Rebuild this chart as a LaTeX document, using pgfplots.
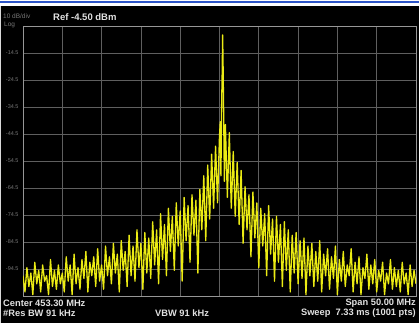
\documentclass[border=0pt]{standalone}
\usepackage{fontspec}
\setmainfont{Liberation Sans}
\usepackage{pgfplots}
\pgfplotsset{compat=1.18}
\definecolor{trace}{RGB}{235,235,20}
\definecolor{gridc}{RGB}{95,95,95}
\definecolor{framec}{RGB}{150,150,150}
\definecolor{txt}{RGB}{225,225,225}
\definecolor{lbl}{RGB}{120,120,120}
\definecolor{topblue}{RGB}{45,85,200}
\begin{document}
\begin{tikzpicture}[x=1pt,y=1pt]
\useasboundingbox (0,0) rectangle (419,323);
\fill[black] (0,0) rectangle (419,317);
\fill[white] (0,317) rectangle (419,323);
\fill[topblue] (0,320) rectangle (419,322.3);
\fill[white!85!black] (0,0) rectangle (1.3,317);
\begin{axis}[at={(23pt,27pt)}, anchor=south west, scale only axis,
  width=393pt, height=270pt,
  xmin=428.3, xmax=478.3, ymin=-104.5, ymax=-4.5,
  xtick={433.3,438.3,443.3,448.3,453.3,458.3,463.3,468.3,473.3},
  xticklabels={},
  ytick={-94.5,-84.5,-74.5,-64.5,-54.5,-44.5,-34.5,-24.5,-14.5},
  yticklabels={-94.5,-84.5,-74.5,-64.5,-54.5,-44.5,-34.5,-24.5,-14.5},
  yticklabel style={font=\fontsize{5.5}{6}\selectfont, text=lbl, xshift=-1pt},
  major tick length=0pt,
  grid=major, grid style={gridc, line width=0.8pt},
  axis line style={framec, line width=0.9pt},
  clip=true]
\addplot[trace, line width=1.3pt, line join=round] table {
x y
428.30 -97
428.55 -103
428.80 -94
429.05 -101
429.30 -96
429.55 -104
429.80 -92
430.05 -100
430.30 -95
430.55 -103
430.80 -93
431.05 -99
431.30 -97
431.55 -104
431.80 -91
432.05 -101
432.30 -95
432.55 -102
432.80 -93
433.05 -100
433.30 -96
433.55 -103
433.80 -90
434.05 -99
434.30 -93
434.55 -104
434.80 -89
435.05 -100
435.30 -94
435.55 -102
435.80 -91
436.05 -98
436.30 -88
436.55 -103
436.80 -92
437.05 -97
437.30 -90
437.55 -101
437.80 -87
438.05 -99
438.30 -93
438.55 -102
438.80 -86
439.05 -97
439.30 -90
439.55 -100
439.80 -85
440.05 -96
440.30 -89
440.55 -103
440.80 -84
441.05 -95
441.30 -88
441.55 -101
441.80 -82
442.05 -97
442.30 -86
442.55 -99
442.80 -80
443.05 -94
443.30 -85
443.55 -102
443.80 -81
444.05 -96
444.30 -83
444.55 -98
444.80 -77
445.05 -93
445.30 -80
445.55 -100
445.80 -74
446.05 -91
446.30 -78
446.55 -97
446.80 -72
447.05 -88
447.30 -75
447.55 -95
447.80 -70
448.05 -86
448.30 -73
448.55 -99
448.80 -68
449.05 -84
449.30 -71
449.55 -92
449.80 -67
450.05 -82
450.30 -69
450.55 -96
450.80 -65
451.05 -80
451.30 -60
451.55 -84
451.80 -56
452.05 -76
452.30 -52
452.55 -72
452.80 -49
453.05 -70
453.30 -45
453.40 -40
453.48 -60
453.57 -34
453.64 -22
453.70 -7.8
453.76 -20
453.83 -37
453.92 -62
454.05 -41
454.30 -68
454.55 -44
454.80 -72
455.05 -51
455.30 -75
455.55 -55
455.80 -78
456.05 -58
456.30 -85
456.55 -64
456.80 -80
457.05 -67
457.30 -90
457.55 -66
457.80 -83
458.05 -70
458.30 -94
458.55 -72
458.80 -86
459.05 -74
459.30 -97
459.55 -71
459.80 -89
460.05 -76
460.30 -99
460.55 -75
460.80 -92
461.05 -78
461.30 -101
461.55 -77
461.80 -95
462.05 -80
462.30 -103
462.55 -82
462.80 -96
463.05 -81
463.30 -100
463.55 -84
463.80 -98
464.05 -83
464.30 -104
464.55 -86
464.80 -97
465.05 -85
465.30 -101
465.55 -88
465.80 -99
466.05 -84
466.30 -103
466.55 -89
466.80 -97
467.05 -87
467.30 -102
467.55 -90
467.80 -98
468.05 -86
468.30 -104
468.55 -91
468.80 -99
469.05 -88
469.30 -101
469.55 -93
469.80 -97
470.05 -87
470.30 -103
470.55 -92
470.80 -100
471.05 -90
471.30 -104
471.55 -94
471.80 -98
472.05 -89
472.30 -102
472.55 -93
472.80 -100
473.05 -91
473.30 -103
473.55 -95
473.80 -99
474.05 -92
474.30 -104
474.55 -96
474.80 -100
475.05 -91
475.30 -102
475.55 -94
475.80 -101
476.05 -95
476.30 -103
476.55 -92
476.80 -100
477.05 -96
477.30 -104
477.55 -93
477.80 -101
478.05 -95
478.30 -100
};
\end{axis}
\node[anchor=west, text=lbl, font=\fontsize{6.5}{7}\selectfont, inner sep=0pt] at (3,306.5) {10 dB/div};
\node[anchor=west, text=lbl, font=\fontsize{6.5}{7}\selectfont, inner sep=0pt] at (4,298.5) {Log};
\node[anchor=west, text=txt, font=\fontsize{9.5}{10}\selectfont\bfseries, inner sep=0pt] at (53,305.5) {Ref -4.50 dBm};
\node[anchor=west, text=txt, font=\fontsize{9.3}{10}\selectfont\bfseries, inner sep=0pt] at (3,20) {Center 453.30 MHz};
\node[anchor=west, text=txt, font=\fontsize{9.3}{10}\selectfont\bfseries, inner sep=0pt] at (3,10) {\#Res BW 91 kHz};
\node[anchor=west, text=txt, font=\fontsize{9.3}{10}\selectfont\bfseries, inner sep=0pt] at (155,10) {VBW 91 kHz};
\node[anchor=east, text=txt, font=\fontsize{9.3}{10}\selectfont\bfseries, inner sep=0pt] at (416,20) {Span 50.00 MHz};
\node[anchor=east, text=txt, font=\fontsize{9.3}{10}\selectfont\bfseries, inner sep=0pt] at (416,10) {Sweep\ \ 7.33 ms (1001 pts)};
\end{tikzpicture}
\end{document}
